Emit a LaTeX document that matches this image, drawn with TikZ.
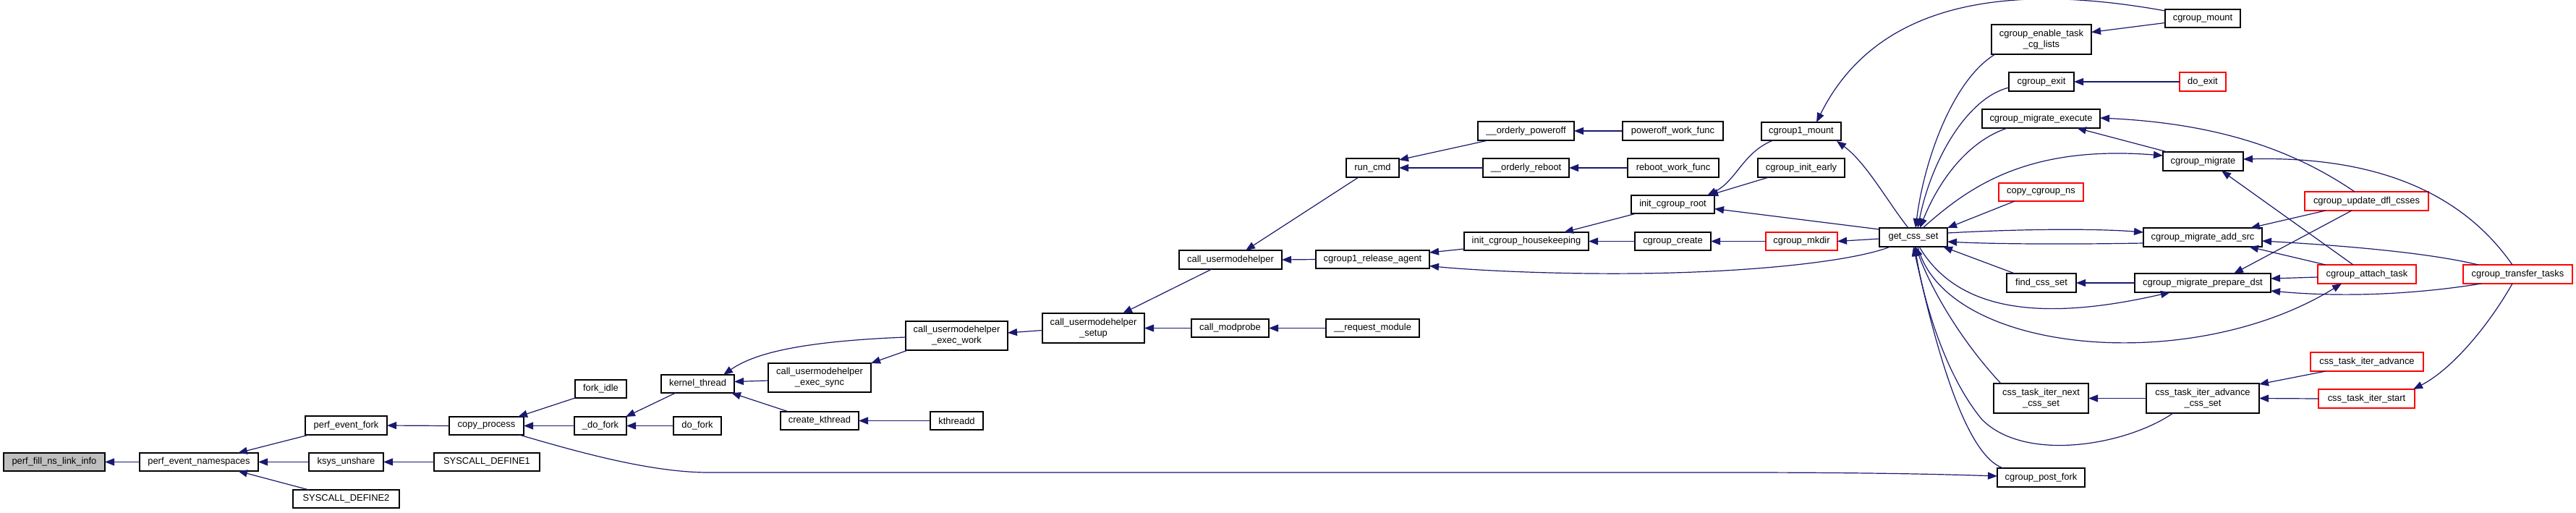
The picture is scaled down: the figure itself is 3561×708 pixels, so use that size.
\documentclass[tikz,border=0pt]{standalone}
\usepackage{fontspec}
\setmainfont{Liberation Sans}
\usetikzlibrary{arrows.meta,calc}
\definecolor{edgeblue}{HTML}{191970}
\definecolor{dxgray}{HTML}{BFBFBF}
\definecolor{dxred}{HTML}{FF0000}
\tikzset{
  box/.style={draw=black, line width=0.8pt, fill=white, rectangle, inner sep=0pt, outer sep=0pt,
    align=center, font=\fontsize{6.45pt}{7.5pt}\selectfont},
  redbox/.style={draw=dxred},
  graybox/.style={fill=dxgray},
  callarrow/.style={draw=edgeblue, line width=0.6pt, -{Triangle[length=6.5pt,width=5pt]}, fill=none}
}
\newcommand\nd[7][]{\node[box,#1,minimum width={(#4-#3)*0.5pt},minimum height={(#6-#5)*0.5pt}] (#2) at ({(#3+#4)/2},{(#5+#6)/2}) {#7};}
\begin{document}
\begin{tikzpicture}[x=0.5pt,y=-0.5pt]
\fill[white] (0,0) rectangle (3561,708);
\useasboundingbox (0,0) rectangle (3561,708);
% nodes
\nd[graybox]{fill}{5}{145}{626}{651}{perf\_fill\_ns\_link\_info}
\nd{pen}{193}{357}{626}{651}{perf\_event\_namespaces}
\nd{pef}{422}{535}{575}{601}{perf\_event\_fork}
\nd{ksys}{427}{530}{626}{651}{ksys\_unshare}
\nd{sdtwo}{405}{552}{677}{702}{SYSCALL\_DEFINE2}
\nd{cp}{621}{724}{576}{601}{copy\_process}
\nd{sdone}{600}{746}{626}{651}{SYSCALL\_DEFINE1}
\nd{forkidle}{795}{866}{525}{550}{fork\_idle}
\nd{udofork}{794}{866}{576}{601}{\_do\_fork}
\nd{dofork}{931}{997}{576}{601}{do\_fork}
\nd{kthread}{914}{1015}{518}{543}{kernel\_thread}
\nd{execsync}{1062}{1204}{502}{542}{call\_usermodehelper\\\_exec\_sync}
\nd{ck}{1079}{1187}{569}{594}{create\_kthread}
\nd{kthreadd}{1286}{1359}{569}{594}{kthreadd}
\nd{execwork}{1252}{1393}{444}{484}{call\_usermodehelper\\\_exec\_work}
\nd{setup}{1441}{1582}{433}{474}{call\_usermodehelper\\\_setup}
\nd{modprobe}{1647}{1754}{441}{466}{call\_modprobe}
\nd{reqmod}{1833}{1962}{441}{466}{\_\_request\_module}
\nd{callumh}{1630}{1772}{346}{372}{call\_usermodehelper}
\nd{ra}{1819}{1976}{346}{371}{cgroup1\_release\_agent}
\nd{runcmd}{1861}{1934}{219}{245}{run\_cmd}
\nd{poweroff}{2043}{2176}{168}{194}{\_\_orderly\_poweroff}
\nd{powerwork}{2243}{2382}{168}{194}{poweroff\_work\_func}
\nd{reboot}{2050}{2169}{219}{245}{\_\_orderly\_reboot}
\nd{rebootwork}{2250}{2376}{219}{245}{reboot\_work\_func}
\nd{hk}{2024}{2196}{321}{346}{init\_cgroup\_housekeeping}
\nd{initroot}{2255}{2370}{270}{295}{init\_cgroup\_root}
\nd{cgcreate}{2260}{2365}{321}{346}{cgroup\_create}
\nd{conemount}{2435}{2545}{169}{194}{cgroup1\_mount}
\nd{early}{2430}{2550}{219}{245}{cgroup\_init\_early}
\nd[redbox]{mkdir}{2441}{2540}{321}{346}{cgroup\_mkdir}
\nd{gcs}{2598}{2692}{315}{341}{get\_css\_set}
\nd{enable}{2753}{2891}{34}{75}{cgroup\_enable\_task\\\_cg\_lists}
\nd{cexit}{2777}{2867}{100}{126}{cgroup\_exit}
\nd{mexec}{2740}{2903}{151}{177}{cgroup\_migrate\_execute}
\nd[redbox]{ccns}{2763}{2880}{253}{278}{copy\_cgroup\_ns}
\nd{find}{2774}{2870}{378}{404}{find\_css\_set}
\nd{itnext}{2756}{2887}{530}{571}{css\_task\_iter\_next\\\_css\_set}
\nd{pfork}{2761}{2882}{647}{673}{cgroup\_post\_fork}
\nd{cmount}{2993}{3097}{13}{38}{cgroup\_mount}
\nd[redbox]{doexit}{3013}{3077}{100}{126}{do\_exit}
\nd{cmigrate}{2990}{3101}{210}{236}{cgroup\_migrate}
\nd{addsrc}{2963}{3127}{315}{341}{cgroup\_migrate\_add\_src}
\nd{pdst}{2951}{3139}{378}{404}{cgroup\_migrate\_prepare\_dst}
\nd{itadvcs}{2967}{3123}{530}{571}{css\_task\_iter\_advance\\\_css\_set}
\nd[redbox]{udfl}{3186}{3357}{265}{291}{cgroup\_update\_dfl\_csses}
\nd[redbox]{attach}{3204}{3340}{366}{392}{cgroup\_attach\_task}
\nd[redbox]{itadv}{3194}{3350}{487}{513}{css\_task\_iter\_advance}
\nd[redbox]{itstart}{3205}{3338}{538}{564}{css\_task\_iter\_start}
\nd[redbox]{transfer}{3405}{3556}{366}{392}{cgroup\_transfer\_tasks}
% edges (arrow head at callee)
\draw[callarrow] (pen.west) -- (fill.east);
\draw[callarrow] ($(pef.south west)+(5,0)$) -- ($(pen.north east)+(-28,0)$);
\draw[callarrow] (ksys.west) -- (pen.east);
\draw[callarrow] ($(sdtwo.north west)+(22,0)$) -- ($(pen.south east)+(-28,0)$);
\draw[callarrow] (cp.west) -- (pef.east);
\draw[callarrow] (sdone.west) -- (ksys.east);
\draw[callarrow] (forkidle.south west) -- ($(cp.north east)+(-8,0)$);
\draw[callarrow] (udofork.west) -- (cp.east);
\draw[callarrow] ($(kthread.south west)+(20,0)$) -- ($(udofork.north east)+(-1,0)$);
\draw[callarrow] (dofork.west) -- (udofork.east);
\draw[callarrow] ($(execwork.west)+(0,2)$) .. controls (1100,472) and (1040,490) .. ($(kthread.north east)+(-15,0)$);
\draw[callarrow] ($(execsync.west)+(0,4)$) -- ($(kthread.east)+(0,-3)$);
\draw[callarrow] ($(ck.north west)+(11,0)$) -- ($(kthread.south east)+(-4,0)$);
\draw[callarrow] ($(execwork.south west)+(3,0)$) -- (execsync.north east);
\draw[callarrow] (kthreadd.west) -- (ck.east);
\draw[callarrow] ($(setup.west)+(0,3)$) -- ($(execwork.east)+(0,-4)$);
\draw[callarrow] ($(callumh.south west)+(45,0)$) -- ($(setup.north west)+(111,0)$);
\draw[callarrow] (modprobe.west) -- (setup.east);
\draw[callarrow] (reqmod.west) -- (modprobe.east);
\draw[callarrow] ($(runcmd.south west)+(17,0)$) -- ($(callumh.north west)+(92,0)$);
\draw[callarrow] (ra.west) -- (callumh.east);
\draw[callarrow] ($(poweroff.south west)+(14,0)$) -- ($(runcmd.north east)+(0,2)$);
\draw[callarrow] (reboot.west) -- (runcmd.east);
\draw[callarrow] (powerwork.west) -- (poweroff.east);
\draw[callarrow] (rebootwork.west) -- (reboot.east);
\draw[callarrow] ($(hk.south west)+(0,-2)$) -- ($(ra.north east)+(0,3)$);
\draw[callarrow] ($(initroot.south west)+(7,0)$) -- ($(hk.north east)+(-34,0)$);
\draw[callarrow] (cgcreate.west) -- (hk.east);
\draw[callarrow] ($(conemount.south west)+(16,0)$) .. controls (2410,210) and (2400,250) .. ($(initroot.north east)+(-10,0)$);
\draw[callarrow] ($(early.south west)+(15,0)$) -- ($(initroot.north east)+(-8,0)$);
\draw[callarrow] ($(gcs.north west)+(0,2)$) -- ($(initroot.east)+(0,6)$);
\draw[callarrow] (mkdir.west) -- (cgcreate.east);
\draw[callarrow] ($(gcs.west)+(0,2)$) -- (mkdir.east);
\draw[callarrow] ($(gcs.south west)+(15,0)$) .. controls (2560,362) and (2400,380) .. (2200,378) .. controls (2100,377) and (2020,372) .. ($(ra.east)+(0,9)$);
\draw[callarrow] ($(cmount.north west)+(0,2)$) .. controls (2800,-20) and (2600,-10) .. ($(conemount.north east)+(-34,0)$);
\draw[callarrow] ($(gcs.north west)+(40,0)$) .. controls (2610,280) and (2580,225) .. ($(conemount.south east)+(-6,1)$);
\draw[callarrow] ($(enable.south west)+(5,0)$) .. controls (2700,110) and (2660,220) .. ($(gcs.north)+(3,0)$);
\draw[callarrow] ($(cexit.west)+(0,8)$) .. controls (2720,135) and (2670,220) .. ($(gcs.north)+(6,0)$);
\draw[callarrow] ($(mexec.south west)+(35,0)$) .. controls (2720,195) and (2680,250) .. ($(gcs.north)+(9,0)$);
\draw[callarrow] ($(gcs.north)+(13,0)$) .. controls (2720,260) and (2800,200) .. ($(cmigrate.west)+(0,-8)$);
\draw[callarrow] ($(ccns.south west)+(22,0)$) -- (gcs.north east);
\draw[callarrow] ($(gcs.east)+(0,-6)$) .. controls (2800,316) and (2900,316) .. ($(addsrc.west)+(0,-7)$);
\draw[callarrow] ($(addsrc.west)+(0,8)$) .. controls (2850,338) and (2750,337) .. ($(gcs.east)+(0,6)$);
\draw[callarrow] ($(find.north west)+(11,0)$) -- ($(gcs.south east)+(-6,0)$);
\draw[callarrow] (pdst.west) -- (find.east);
\draw[callarrow] ($(gcs.south)+(8,0)$) .. controls (2700,420) and (2800,450) .. ($(pdst.south west)+(49,0)$);
\draw[callarrow] ($(gcs.south)+(6,0)$) .. controls (2690,490) and (3030,520) .. ($(attach.south west)+(33,0)$);
\draw[callarrow] ($(itnext.north west)+(10,0)$) .. controls (2710,470) and (2670,400) .. ($(gcs.south)+(3,0)$);
\draw[callarrow] ($(itadvcs.south west)+(37,0)$) .. controls (2940,615) and (2800,640) .. (2740,580) .. controls (2690,520) and (2660,420) .. ($(gcs.south)+(2,0)$);
\draw[callarrow] ($(pfork.north west)+(8,0)$) .. controls (2720,630) and (2680,500) .. (gcs.south);
\draw[callarrow] ($(cp.south east)+(-6,0)$) .. controls (800,625) and (900,653) .. (980,653) -- (2400,653) .. controls (2600,653) and (2700,656) .. ($(pfork.west)+(0,-2)$);
\draw[callarrow] ($(cmount.west)+(0,6)$) -- ($(enable.east)+(0,-10)$);
\draw[callarrow] (doexit.west) -- (cexit.east);
\draw[callarrow] ($(cmigrate.north west)+(6,0)$) -- ($(mexec.south east)+(-32,0)$);
\draw[callarrow] ($(udfl.north west)+(69,0)$) .. controls (3160,200) and (3050,170) .. ($(mexec.east)+(0,-1)$);
\draw[callarrow] ($(attach.north west)+(49,0)$) -- ($(cmigrate.south east)+(-30,0)$);
\draw[callarrow] ($(transfer.north west)+(68,0)$) .. controls (3420,290) and (3320,215) .. ($(cmigrate.east)+(0,-3)$);
\draw[callarrow] ($(udfl.south west)+(29,0)$) -- ($(addsrc.north east)+(-16,0)$);
\draw[callarrow] ($(udfl.south west)+(65,0)$) -- ($(pdst.north east)+(-51,0)$);
\draw[callarrow] ($(attach.north west)+(11,0)$) -- ($(addsrc.south east)+(-18,0)$);
\draw[callarrow] ($(attach.west)+(0,4)$) -- ($(pdst.east)+(0,-6)$);
\draw[callarrow] ($(transfer.north west)+(21,0)$) .. controls (3360,350) and (3250,340) .. ($(addsrc.east)+(0,5)$);
\draw[callarrow] ($(transfer.south west)+(25,0)$) .. controls (3350,405) and (3250,412) .. ($(pdst.south east)+(0,-2)$);
\draw[callarrow] ($(itadv.south west)+(21,0)$) -- ($(itadvcs.north east)+(0,1)$);
\draw[callarrow] (itstart.west) -- (itadvcs.east);
\draw[callarrow] (itadvcs.west) -- (itnext.east);
\draw[callarrow] ($(transfer.south west)+(68,0)$) .. controls (3440,450) and (3390,510) .. ($(itstart.north east)+(-2,0)$);
\end{tikzpicture}
\end{document}
